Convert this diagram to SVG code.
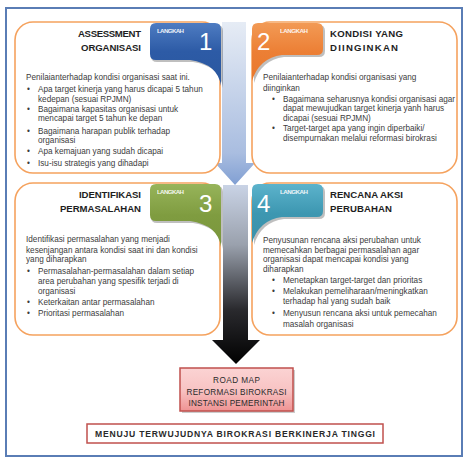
<svg xmlns="http://www.w3.org/2000/svg" width="465" height="460" viewBox="0 0 465 460">
<defs>
<linearGradient id="gBlue" x1="0" y1="0" x2="0" y2="1"><stop offset="0" stop-color="#4e7cc2"/><stop offset="0.45" stop-color="#2d5ba6"/><stop offset="1" stop-color="#2a579f"/></linearGradient>
<linearGradient id="gOrange" x1="0" y1="0" x2="0" y2="1"><stop offset="0" stop-color="#f29a55"/><stop offset="0.5" stop-color="#ec7f35"/><stop offset="1" stop-color="#e9782c"/></linearGradient>
<linearGradient id="gGreen" x1="0" y1="0" x2="0" y2="1"><stop offset="0" stop-color="#97b45a"/><stop offset="0.5" stop-color="#7f9c40"/><stop offset="1" stop-color="#7a963c"/></linearGradient>
<linearGradient id="gTeal" x1="0" y1="0" x2="0" y2="1"><stop offset="0" stop-color="#5cb3cc"/><stop offset="0.5" stop-color="#3d97b1"/><stop offset="1" stop-color="#3990aa"/></linearGradient>
<linearGradient id="gLight" x1="0" y1="22" x2="0" y2="186" gradientUnits="userSpaceOnUse"><stop offset="0" stop-color="#e6ecf5"/><stop offset="0.8" stop-color="#a9bde0"/><stop offset="1" stop-color="#7f9ed2"/></linearGradient>
<linearGradient id="gDark" x1="0" y1="180" x2="0" y2="365" gradientUnits="userSpaceOnUse"><stop offset="0" stop-color="#cdd7ea"/><stop offset="0.35" stop-color="#9aa1ad"/><stop offset="0.7" stop-color="#2a2a2e"/><stop offset="1" stop-color="#000"/></linearGradient>
<linearGradient id="gRoad" x1="0" y1="0" x2="0" y2="1"><stop offset="0" stop-color="#fbd3d3"/><stop offset="0.5" stop-color="#f8c4c4"/><stop offset="1" stop-color="#ef9393"/></linearGradient>
<style>
.box{fill:#fff;stroke:#f5a25e;stroke-width:1.6}
.title{font-family:"Liberation Sans",Arial,sans-serif;font-weight:bold;font-size:9.6px;fill:#1e1e1e}
.lk{font-family:"Liberation Sans",Arial,sans-serif;font-weight:bold;font-size:6.2px;fill:#fff;opacity:0.9}
.num{font-family:"Liberation Sans",Arial,sans-serif;font-size:24px;fill:#fff}
.body{font-family:"Liberation Sans",Arial,sans-serif;font-size:8.2px;fill:#3c3c3c}
.rm{font-family:"Liberation Sans",Arial,sans-serif;font-size:8.2px;fill:#2a2a2a}
.goal{font-family:"Liberation Sans",Arial,sans-serif;font-weight:bold;font-size:8.6px;fill:#2a2a2a}
.shadow{fill:#000;opacity:0.25}
</style>
</defs>
<rect x="0" y="0" width="465" height="460" fill="#fff"/>
<rect x="6" y="8" width="456" height="448" fill="#fff" stroke="#5a7db5" stroke-width="2"/>

<g id="connectors">
<path d="M223,185 H248 V340 H260 L236,364 L212,340 H223 Z" fill="url(#gDark)"/>
<path d="M222,22 H246 V163 H255 L235,185 L215,163 H222 Z" fill="url(#gLight)"/>
</g>

<g id="box1">
<rect class="box" x="15" y="22" width="205" height="151" rx="18"/>
<path class="shadow" d="M157,25 H217 Q223,25 223,31 V88 Q220,66 193,62 H157 Q151,62 151,56 V31 Z"/>
<path d="M156,23 H215 Q221,23 221,29 V86 Q218,64 190,60 H156 Q150,60 150,54 V29 Q150,23 156,23 Z" fill="url(#gBlue)"/>
<text class="title" x="141" y="37" text-anchor="end" textLength="63">ASSESSMENT</text>
<text class="title" x="141" y="51" text-anchor="end" textLength="60">ORGANISASI</text>
<text class="lk" x="157" y="32.5" textLength="27">LANGKAH</text>
<text class="num" x="199" y="50">1</text>
<text class="body" x="26" y="80">Penilaianterhadap kondisi organisasi saat ini.</text>
<g class="body">
<text x="27" y="92">•</text><text x="38" y="92">Apa target kinerja yang harus dicapai 5 tahun</text>
<text x="38" y="101.5">kedepan (sesuai RPJMN)</text>
<text x="27" y="112">•</text><text x="38" y="112">Bagaimana kapasitas organisasi untuk</text>
<text x="38" y="121">mencapai target 5 tahun ke depan</text>
<text x="27" y="133.5">•</text><text x="38" y="133.5">Bagaimana harapan publik terhadap</text>
<text x="38" y="142.5">organisasi</text>
<text x="27" y="154">•</text><text x="38" y="154">Apa kemajuan yang sudah dicapai</text>
<text x="27" y="166">•</text><text x="38" y="166">Isu-isu strategis yang dihadapi</text>
</g>
</g>

<g id="box2">
<rect class="box" x="252" y="22" width="205" height="151" rx="18"/>
<path class="shadow" d="M260,25 H319 Q325,25 325,31 V51 Q325,57 319,57 H284 Q261,60 254,83 V31 Z"/>
<path d="M258,23 H317 Q323,23 323,29 V49 Q323,55 317,55 H282 Q259,58 252,81 V29 Q252,23 258,23 Z" fill="url(#gOrange)"/>
<text class="title" x="330" y="36.5" textLength="73">KONDISI YANG</text>
<text class="title" x="330" y="50.5" textLength="68">DIINGINKAN</text>
<text class="lk" x="280" y="33" textLength="28">LANGKAH</text>
<text class="num" x="257" y="50">2</text>
<g class="body">
<text x="263" y="80">Penilaianterhadap kondisi organisasi yang</text>
<text x="263" y="90.5">diinginkan</text>
<text x="272" y="101.5">•</text><text x="283" y="101.5">Bagaimana seharusnya kondisi organisasi agar</text>
<text x="283" y="111">dapat mewujudkan target kinerja yanh harus</text>
<text x="283" y="120.5">dicapai (sesuai RPJMN)</text>
<text x="272" y="131">•</text><text x="283" y="131">Target-target apa yang ingin diperbaiki/</text>
<text x="283" y="140.5">disempurnakan melalui reformasi birokrasi</text>
</g>
</g>

<g id="box3">
<rect class="box" x="15" y="183" width="205" height="152" rx="18"/>
<path class="shadow" d="M157,186 H217 Q223,186 223,192 V249 Q220,227 193,223 H157 Q151,223 151,217 V192 Z"/>
<path d="M156,184 H215 Q221,184 221,190 V247 Q218,225 190,221 H156 Q150,221 150,215 V190 Q150,184 156,184 Z" fill="url(#gGreen)"/>
<text class="title" x="141" y="198" text-anchor="end" textLength="62">IDENTIFIKASI</text>
<text class="title" x="141" y="212" text-anchor="end" textLength="81">PERMASALAHAN</text>
<text class="lk" x="157" y="193.5" textLength="27">LANGKAH</text>
<text class="num" x="199" y="211.5">3</text>
<g class="body">
<text x="26" y="242">Identifikasi permasalahan yang menjadi</text>
<text x="26" y="252.5">kesenjangan antara kondisi saat ini dan kondisi</text>
<text x="26" y="262">yang diharapkan</text>
<text x="27" y="273.5">•</text><text x="38" y="273.5">Permasalahan-permasalahan dalam setiap</text>
<text x="38" y="284">area perubahan yang spesifik terjadi di</text>
<text x="38" y="294">organisasi</text>
<text x="27" y="305">•</text><text x="38" y="305">Keterkaitan antar permasalahan</text>
<text x="27" y="316">•</text><text x="38" y="316">Prioritasi permasalahan</text>
</g>
</g>

<g id="box4">
<rect class="box" x="252" y="183" width="205" height="152" rx="18"/>
<path class="shadow" d="M260,186 H319 Q325,186 325,192 V213 Q325,219 319,219 H284 Q261,222 254,245 V192 Z"/>
<path d="M258,184 H317 Q323,184 323,190 V211 Q323,217 317,217 H282 Q259,220 252,243 V190 Q252,184 258,184 Z" fill="url(#gTeal)"/>
<text class="title" x="330" y="198" textLength="73">RENCANA AKSI</text>
<text class="title" x="330" y="212" textLength="62">PERUBAHAN</text>
<text class="lk" x="280" y="194" textLength="28">LANGKAH</text>
<text class="num" x="257" y="211.5">4</text>
<g class="body">
<text x="263" y="242.5">Penyusunan rencana aksi perubahan untuk</text>
<text x="263" y="252.5">memecahkan berbagai permasalahan agar</text>
<text x="263" y="262">organisasi dapat mencapai kondisi yang</text>
<text x="263" y="272">diharapkan</text>
<text x="272" y="283">•</text><text x="283" y="283">Menetapkan target-target dan prioritas</text>
<text x="272" y="294">•</text><text x="283" y="294">Melakukan pemeliharaan/meningkatkan</text>
<text x="283" y="304">terhadap hal yang sudah baik</text>
<text x="272" y="316">•</text><text x="283" y="316">Menyusun rencana aksi untuk pemecahan</text>
<text x="283" y="326.5">masalah organisasi</text>
</g>
</g>

<g id="roadmap">
<rect x="182" y="370" width="113" height="43" fill="#000" opacity="0.2"/>
<rect x="180" y="368" width="113" height="43" fill="url(#gRoad)" stroke="#c0504d" stroke-width="1.5"/>
<text class="rm" x="236.5" y="382.5" text-anchor="middle" textLength="47">ROAD MAP</text>
<text class="rm" x="236.5" y="394.5" text-anchor="middle" textLength="100">REFORMASI BIROKRASI</text>
<text class="rm" x="236.5" y="406" text-anchor="middle" textLength="96">INSTANSI PEMERINTAH</text>
</g>

<g id="goal">
<rect x="87" y="424" width="296" height="19" fill="#fff" stroke="#c0504d" stroke-width="1.5"/>
<text class="goal" x="235" y="437" text-anchor="middle" textLength="280">MENUJU TERWUJUDNYA BIROKRASI BERKINERJA TINGGI</text>
</g>
</svg>
